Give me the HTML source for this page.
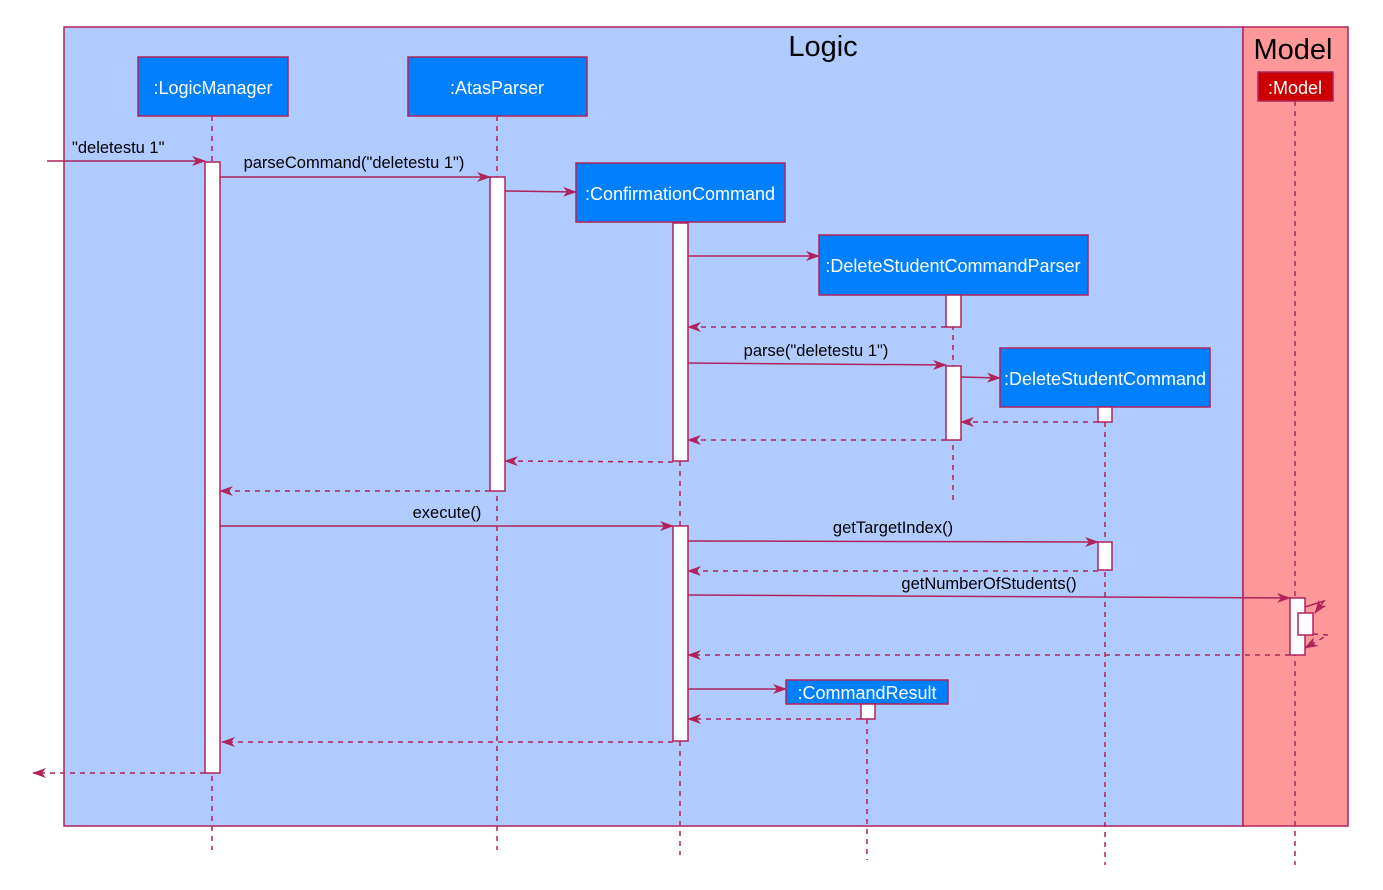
<!DOCTYPE html>
<html><head><meta charset="utf-8"><style>
html,body{margin:0;padding:0;background:#fff;}
svg text{font-family:"Liberation Sans",Arial,sans-serif;}
</style></head><body>
<svg width="1383" height="885" viewBox="0 0 1383 885" xmlns="http://www.w3.org/2000/svg">
<defs>
<marker id="a" viewBox="0 0 14 10" refX="13" refY="5" markerWidth="14" markerHeight="10" markerUnits="userSpaceOnUse" orient="auto">
<path d="M0,0 L14,5 L0,10 L4,5 Z" fill="#B0245A"/>
</marker>
</defs>
<rect x="64" y="27" width="1179" height="799" fill="#B0CBFF" stroke="#B0245A" stroke-width="1.5"/>
<rect x="1243" y="27" width="105" height="799" fill="#FF9999" stroke="#B0245A" stroke-width="1.5"/>
<text x="823" y="56" font-size="29" text-anchor="middle">Logic</text>
<text x="1293" y="59" font-size="29" text-anchor="middle">Model</text>

<g stroke="#B0245A" stroke-width="1.5" stroke-dasharray="5,5" fill="none">
<line x1="212" y1="116" x2="212" y2="850"/>
<line x1="497" y1="116" x2="497" y2="850"/>
<line x1="680" y1="461" x2="680" y2="855"/>
<line x1="953" y1="295" x2="953" y2="505"/>
<line x1="1105" y1="422" x2="1105" y2="865"/>
<line x1="867" y1="719" x2="867" y2="860"/>
<line x1="1295" y1="101" x2="1295" y2="865"/>
</g>

<g stroke="#B0245A" stroke-width="1.5">
<rect x="138" y="57" width="150" height="59" fill="#007FFF"/>
<rect x="408" y="57" width="179" height="59" fill="#007FFF"/>
<rect x="576" y="163" width="209" height="59" fill="#007FFF"/>
<rect x="819" y="235" width="269" height="60" fill="#007FFF"/>
<rect x="1000" y="348" width="210" height="59" fill="#007FFF"/>
<rect x="786" y="680" width="162" height="24" fill="#007FFF"/>
<rect x="1258" y="72" width="75" height="29" fill="#CC0000"/>
</g>
<g fill="#fff" font-size="18" text-anchor="middle">
<text x="213" y="94">:LogicManager</text>
<text x="497" y="94">:AtasParser</text>
<text x="680" y="200">:ConfirmationCommand</text>
<text x="953" y="272">:DeleteStudentCommandParser</text>
<text x="1105" y="385">:DeleteStudentCommand</text>
<text x="867" y="699">:CommandResult</text>
<text x="1295" y="94">:Model</text>
</g>

<g stroke="#B0245A" stroke-width="1.5" fill="#fff">
<rect x="205" y="162" width="15" height="611"/>
<rect x="490" y="177" width="15" height="314"/>
<rect x="673" y="223" width="15" height="238"/>
<rect x="673" y="526" width="15" height="215"/>
<rect x="946" y="295" width="15" height="32"/>
<rect x="946" y="366" width="15" height="74"/>
<rect x="1098" y="407" width="14" height="15"/>
<rect x="1098" y="542" width="14" height="28"/>
<rect x="861" y="704" width="14" height="15"/>
<rect x="1290" y="598" width="15" height="57"/>
<rect x="1298" y="613" width="15" height="22"/>
</g>

<g stroke="#B0245A" stroke-width="1.5" fill="none" marker-end="url(#a)">
<line x1="47" y1="161" x2="205" y2="161"/>
<line x1="220" y1="177" x2="490" y2="177"/>
<line x1="505" y1="191" x2="576" y2="192"/>
<line x1="688" y1="256" x2="819" y2="256"/>
<line x1="688" y1="363" x2="946" y2="365"/>
<line x1="961" y1="377" x2="1000" y2="378"/>
<line x1="220" y1="526" x2="673" y2="526"/>
<line x1="688" y1="541" x2="1098" y2="542"/>
<line x1="688" y1="595" x2="1290" y2="598"/>
<line x1="688" y1="689" x2="786" y2="689"/>
<path d="M1305,607 L1324,601 L1315,613"/>
</g>
<g stroke="#B0245A" stroke-width="1.5" fill="none" stroke-dasharray="5,5" marker-end="url(#a)">
<line x1="946" y1="327" x2="688" y2="327"/>
<line x1="1098" y1="422" x2="961" y2="422"/>
<line x1="946" y1="440" x2="688" y2="440"/>
<line x1="673" y1="462" x2="505" y2="461"/>
<line x1="490" y1="491" x2="220" y2="491"/>
<line x1="1098" y1="571" x2="688" y2="571"/>
<line x1="1290" y1="655" x2="688" y2="655"/>
<line x1="861" y1="719" x2="688" y2="719"/>
<line x1="673" y1="742" x2="222" y2="742"/>
<line x1="205" y1="773" x2="33" y2="773"/>
<path d="M1313,634 L1328,635 L1305,648"/>
</g>

<g font-size="16.5" fill="#000">
<text x="72" y="153">"deletestu 1"</text>
<text x="354" y="168" text-anchor="middle">parseCommand("deletestu 1")</text>
<text x="816" y="356" text-anchor="middle">parse("deletestu 1")</text>
<text x="447" y="518" text-anchor="middle">execute()</text>
<text x="893" y="533" text-anchor="middle">getTargetIndex()</text>
<text x="989" y="589" text-anchor="middle">getNumberOfStudents()</text>
</g>
</svg>
</body></html>
